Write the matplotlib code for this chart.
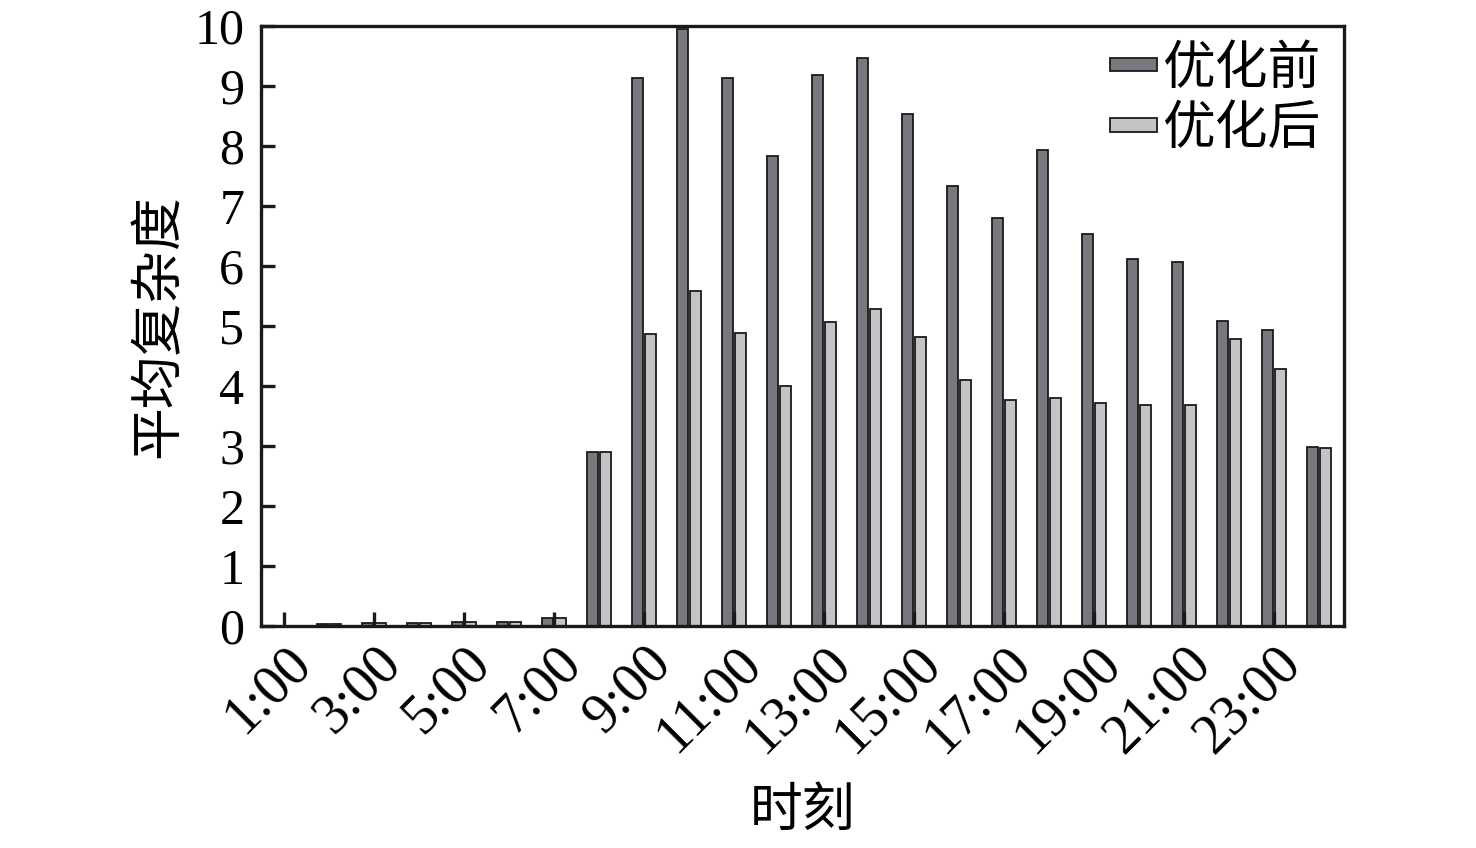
import matplotlib
matplotlib.use("Agg")
import matplotlib.pyplot as plt
import numpy as np

plt.rcParams['font.family'] = ['Liberation Serif', 'Noto Sans CJK SC', 'DejaVu Sans']

hours = list(range(1, 25))
tick_hours = [1, 3, 5, 7, 9, 11, 13, 15, 17, 19, 21, 23]
tick_labels = ["1:00", "3:00", "5:00", "7:00", "9:00", "11:00", "13:00",
               "15:00", "17:00", "19:00", "21:00", "23:00"]
before = [0.0, 0.03, 0.05, 0.05, 0.07, 0.07, 0.13, 2.90, 9.14, 9.95, 9.14, 7.84,
          9.18, 9.46, 8.53, 7.33, 6.80, 7.93, 6.53, 6.12, 6.07, 5.08, 4.93, 2.98]
after = [0.0, 0.03, 0.05, 0.05, 0.07, 0.07, 0.13, 2.90, 4.87, 5.58, 4.88, 4.00,
         5.07, 5.28, 4.82, 4.10, 3.77, 3.80, 3.71, 3.69, 3.69, 4.79, 4.29, 2.96]
series_names = ["优化前", "优化后"]

dark = "#77797f"
light = "#c3c4c6"
cjk = ['Noto Sans CJK SC', 'DejaVu Sans']

fig = plt.figure(figsize=(14.76, 8.48), dpi=100)
ax = fig.add_axes([0.1768, 0.2618, 0.7338, 0.7075])

x = np.array(hours, dtype=float)
w = 0.245
off = 0.145
ax.bar(x - off, before, width=w, color=dark, edgecolor="#1a1a1a", linewidth=1.3, label=series_names[0])
ax.bar(x + off, after, width=w, color=light, edgecolor="#1a1a1a", linewidth=1.3, label=series_names[1])

ax.set_xlim(0.49, 24.55)
ax.set_ylim(0, 10)
ax.set_yticks(range(0, 11))
ax.set_yticklabels([str(i) for i in range(0, 11)], fontsize=36)
ax.set_xticks(tick_hours)
ax.set_xticklabels(tick_labels, fontsize=40, rotation=45, ha='right', va='top', rotation_mode='anchor')

for s in ax.spines.values():
    s.set_linewidth(2.4)
    s.set_color("#1a1a1a")
ax.tick_params(axis='both', direction='in', length=10, width=2.4, color="#1a1a1a")
ax.tick_params(axis='y', pad=12)
ax.tick_params(axis='x', pad=8)

ax.set_ylabel("平均复杂度", fontsize=38, family=cjk, labelpad=6)
ax.set_xlabel("时刻", fontsize=38, family=cjk, labelpad=14)

leg = ax.legend(loc='upper right', bbox_to_anchor=(0.978, 0.975), frameon=False,
                prop={'family': cjk, 'size': 38}, handlelength=0.88, handleheight=0.01,
                handletextpad=0.1, labelspacing=0.1, borderaxespad=0.0, borderpad=0.0)

fig.savefig("out.png", dpi=100)
